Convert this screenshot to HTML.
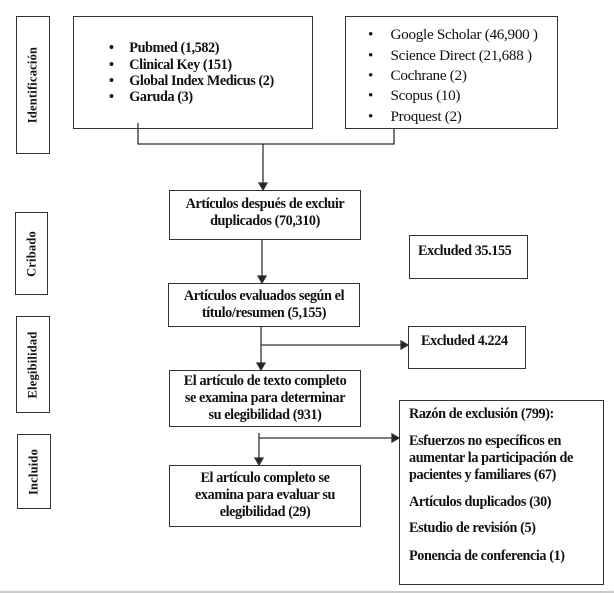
<!DOCTYPE html>
<html><head><meta charset="utf-8"><style>
body{margin:0;width:614px;height:593px;background:#fff;position:relative;overflow:hidden;font-family:"Liberation Serif",serif;color:#111}
.b{position:absolute;border:1.5px solid #333;box-sizing:border-box;background:#fff}
.t{position:absolute;font-size:14.2px;font-weight:bold;letter-spacing:-0.4px;white-space:nowrap;line-height:17px}
.c{text-align:center}
.lab{position:absolute;border:1.5px solid #333;box-sizing:border-box}
.lab span{position:absolute;left:50%;top:50%;transform:translate(-50%,-50%) rotate(-90deg);font-size:12.5px;font-weight:bold;white-space:nowrap;letter-spacing:0.2px}
.r{position:absolute;font-size:15.2px;letter-spacing:-0.3px;white-space:nowrap;line-height:16px}
</style></head><body>
<div class="lab" style="left:16px;top:16px;width:34px;height:138px"><span>Identificación</span></div>
<div class="lab" style="left:15px;top:212px;width:33px;height:83px"><span>Cribado</span></div>
<div class="lab" style="left:16px;top:316px;width:34px;height:97px"><span>Elegibilidad</span></div>
<div class="lab" style="left:17px;top:434px;width:34px;height:75px"><span>Incluido</span></div>

<div class="b" style="left:73px;top:16px;width:240px;height:113px"></div>
<div class="t" style="left:109px;top:40px;line-height:16px">•&nbsp;&nbsp;&nbsp;&nbsp;&nbsp;Pubmed (1,582)</div>
<div class="t" style="left:109px;top:57px;line-height:16px">•&nbsp;&nbsp;&nbsp;&nbsp;&nbsp;Clinical Key (151)</div>
<div class="t" style="left:109px;top:73px;line-height:16px">•&nbsp;&nbsp;&nbsp;&nbsp;&nbsp;Global Index Medicus (2)</div>
<div class="t" style="left:109px;top:89px;line-height:16px">•&nbsp;&nbsp;&nbsp;&nbsp;&nbsp;Garuda (3)</div>

<div class="b" style="left:345px;top:16px;width:213px;height:113px"></div>
<div class="r" style="left:368px;top:27px">•&nbsp;&nbsp;&nbsp;&nbsp;&nbsp;Google Scholar (46,900 )</div>
<div class="r" style="left:368px;top:48px">•&nbsp;&nbsp;&nbsp;&nbsp;&nbsp;Science Direct (21,688 )</div>
<div class="r" style="left:368px;top:68px">•&nbsp;&nbsp;&nbsp;&nbsp;&nbsp;Cochrane (2)</div>
<div class="r" style="left:368px;top:88px">•&nbsp;&nbsp;&nbsp;&nbsp;&nbsp;Scopus (10)</div>
<div class="r" style="left:368px;top:109px">•&nbsp;&nbsp;&nbsp;&nbsp;&nbsp;Proquest (2)</div>

<svg width="614" height="593" style="position:absolute;left:0;top:0" fill="none" stroke="#333" stroke-width="1.3">
<polyline points="138,123 138,144 394,144 394,129"/>
<line x1="263" y1="144" x2="263" y2="184"/><polygon points="259,183 267,183 263,190" fill="#222"/>
<line x1="262" y1="240" x2="262" y2="277"/><polygon points="258,276 266,276 262,283" fill="#222"/>
<line x1="261" y1="327" x2="261" y2="364"/><polygon points="257,363 265,363 261,370" fill="#222"/>
<line x1="261" y1="345" x2="402" y2="345"/><polygon points="401,341 401,349 408,345" fill="#222"/>
<line x1="259" y1="433" x2="259" y2="459"/><polygon points="255,458 263,458 259,465" fill="#222"/>
<line x1="259" y1="438" x2="393" y2="438"/><polygon points="392,434 392,442 399,438" fill="#222"/>
<line x1="0" y1="592" x2="614" y2="592" stroke="#ccc" stroke-width="2"/>
</svg>

<div class="b" style="left:169px;top:190px;width:192px;height:50px"></div>
<div class="t c" style="left:169px;top:196px;width:192px">Artículos después de excluir<br>duplicados (70,310)</div>

<div class="b" style="left:409px;top:235px;width:119px;height:44px"></div>
<div class="t" style="left:418px;top:243px">Excluded 35.155</div>

<div class="b" style="left:168px;top:283px;width:192px;height:44px"></div>
<div class="t c" style="left:168px;top:288px;width:192px">Artículos evaluados según el<br>título/resumen (5,155)</div>

<div class="b" style="left:408px;top:326px;width:118px;height:43px"></div>
<div class="t" style="left:421px;top:333px">Excluded 4.224</div>

<div class="b" style="left:169px;top:370px;width:192px;height:57px"></div>
<div class="t c" style="left:169px;top:373px;width:192px">El artículo de texto completo<br>se examina para determinar<br>su elegibilidad (931)</div>

<div class="b" style="left:169px;top:465px;width:192px;height:62px"></div>
<div class="t c" style="left:169px;top:470px;width:192px">El artículo completo se<br>examina para evaluar su<br>elegibilidad (29)</div>

<div class="b" style="left:399px;top:400px;width:205px;height:185px"></div>
<div class="t" style="left:409px;top:406px">Razón de exclusión (799):</div>
<div class="t" style="left:409px;top:433px">Esfuerzos no específicos en<br>aumentar la participación de<br>pacientes y familiares (67)</div>
<div class="t" style="left:409px;top:494px">Artículos duplicados (30)</div>
<div class="t" style="left:409px;top:520px">Estudio de revisión (5)</div>
<div class="t" style="left:409px;top:548px">Ponencia de conferencia (1)</div>
</body></html>
